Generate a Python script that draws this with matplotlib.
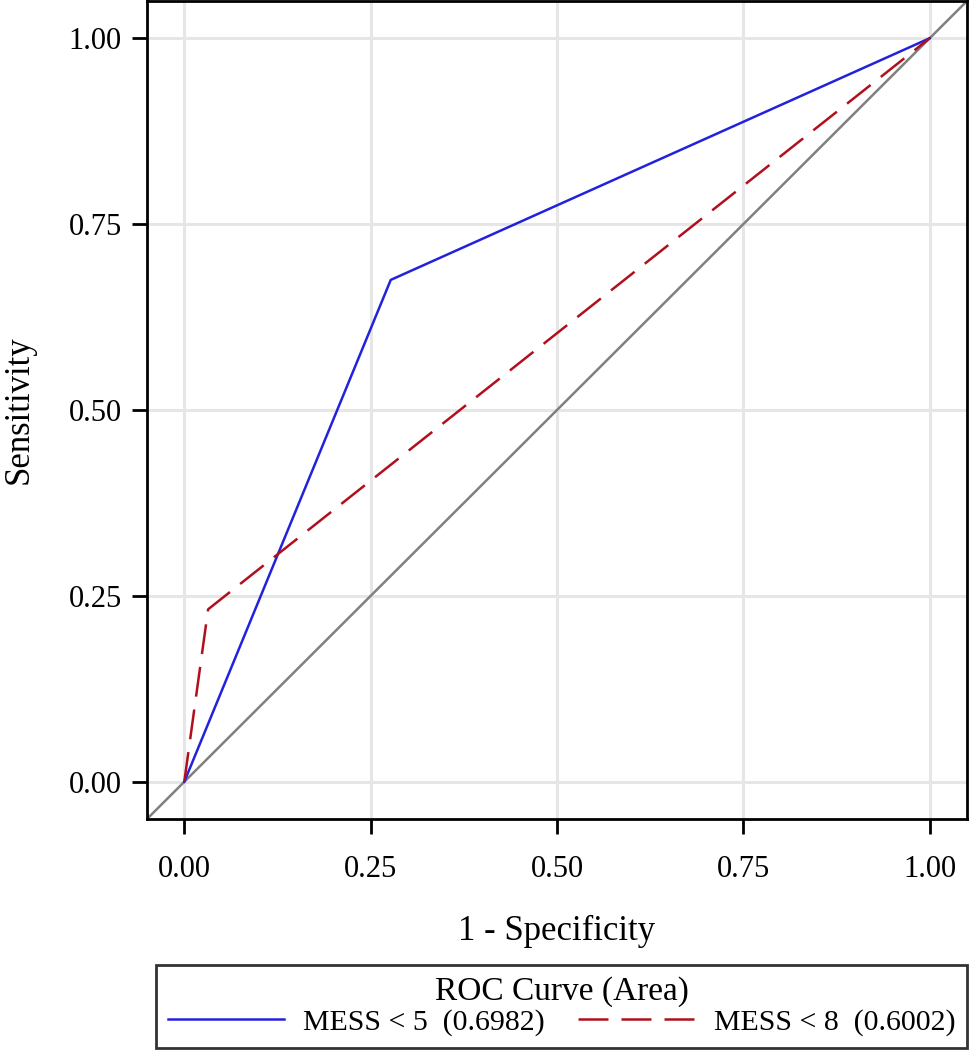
import matplotlib
matplotlib.use("Agg")
import matplotlib.pyplot as plt
from matplotlib.lines import Line2D

# ROC points
fpr_mess5 = [0.0, 0.277, 1.0]
tpr_mess5 = [0.0, 0.675, 1.0]
fpr_mess8 = [0.0, 0.032, 1.0]
tpr_mess8 = [0.0, 0.232, 1.0]
labels = ["MESS < 5  (0.6982)", "MESS < 8  (0.6002)"]
ticks = [0.0, 0.25, 0.5, 0.75, 1.0]
tick_labels = ["0.00", "0.25", "0.50", "0.75", "1.00"]

plt.rcParams["font.family"] = ["Liberation Serif", "DejaVu Serif"]
plt.rcParams["font.size"] = 21

fig = plt.figure(figsize=(9.69, 10.5), dpi=100)
ax = fig.add_axes([0.1517, 0.22, 0.8462, 0.779])

blue = "#2222dd"
red = "#b0101e"
dash = (12, 5.2)

ax.plot([-0.05, 1.05], [-0.05, 1.05], color="#808080", lw=1.8, zorder=2)
ax.plot(fpr_mess5, tpr_mess5, color=blue, lw=1.8, zorder=3)
ax.plot(fpr_mess8, tpr_mess8, color=red, lw=1.8, dashes=dash, zorder=3)

ax.set_xlim(-0.05, 1.05)
ax.set_ylim(-0.05, 1.05)
ax.set_xticks(ticks)
ax.set_xticklabels(tick_labels)
ax.set_yticks(ticks)
ax.set_yticklabels(tick_labels)
ax.grid(True, color="#e6e6e6", lw=2.2)
ax.set_axisbelow(True)
ax.tick_params(direction="out", length=11, width=2, labelsize=22)
ax.tick_params(axis="x", pad=15)
ax.tick_params(axis="y", pad=7)
for s in ax.spines.values():
    s.set_linewidth(2)

ax.set_xlabel("1 - Specificity", labelpad=22, fontsize=25)
ax.set_ylabel("Sensitivity", labelpad=24, fontsize=25)

handles = [Line2D([], [], color=blue, lw=1.8),
           Line2D([], [], color=red, lw=1.8, dashes=dash)]
leg = fig.legend(handles, labels, title="ROC Curve (Area)", ncol=2,
                 loc="lower center", bbox_to_anchor=(0.5795, 0.002),
                 fontsize=21.5, fancybox=False, edgecolor="black",
                 handlelength=3.9, handletextpad=0.65, columnspacing=1.1,
                 borderpad=0.4, labelspacing=0.05, borderaxespad=0)
leg.get_title().set_fontsize(24)
leg.get_frame().set_linewidth(2)
leg._legend_box.sep = 1

fig.savefig("out.png", dpi=100)
